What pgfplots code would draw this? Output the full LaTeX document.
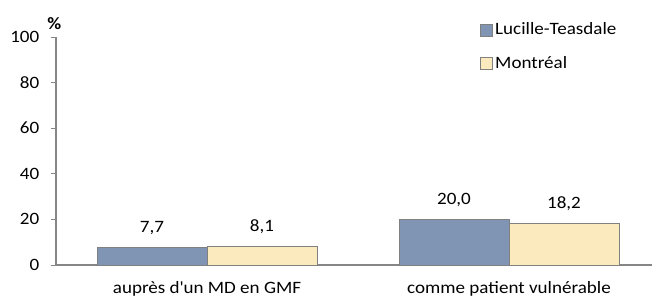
\documentclass[border=0pt]{standalone}
\usepackage{pgfplots}
\pgfplotsset{compat=1.18}
\usepackage{fontspec}
\setmainfont[FakeStretch=1.1]{Carlito}
\definecolor{barblue}{RGB}{127,149,179}
\definecolor{baryellow}{RGB}{250,234,190}
\definecolor{axisgray}{RGB}{134,134,134}
\definecolor{edgegray}{RGB}{128,128,128}
\begin{document}
\begin{tikzpicture}
\begin{axis}[
  scale only axis,
  width=447pt, height=171pt,
  xmin=-0.5, xmax=1.4735,
  ymin=0, ymax=100,
  ytick={0,20,40,60,80,100},
  xtick={0,1},
  xticklabels={auprès d\textquotesingle un MD en GMF, comme patient vulnérable},
  extra x ticks={0.5},
  extra x tick labels={},
  extra x tick style={major tick length=4pt, tick style={axisgray, line width=0.6pt}},
  axis lines=left,
  axis line style={-, axisgray, line width=0.8pt},
  major tick length=4pt,
  x tick style={draw=none},
  y tick style={axisgray, line width=0.6pt},
  tick align=outside,
  font=\fontsize{13pt}{15pt}\selectfont,
  tick label style={font=\fontsize{13pt}{15pt}\selectfont},
  /pgf/number format/assume math mode=true,
  yticklabel style={xshift=-5pt},
  xticklabel style={yshift=-5pt},
  ybar=0pt,
  bar width=82.5pt,
  nodes near coords,
  nodes near coords style={font=\fontsize{13pt}{15pt}\selectfont, yshift=6pt,
    /pgf/number format/.cd, fixed, fixed zerofill, precision=1, use comma, assume math mode=true},
  legend style={draw=none, fill=none, at={(0.711,1.075)}, anchor=north west,
    font=\fontsize{13pt}{15pt}\selectfont, row sep=10.5pt, inner sep=0pt,
    /tikz/every even column/.append style={column sep=1.5pt}},
  legend cell align=left,
  legend image code/.code={\draw[#1, draw=edgegray, line width=0.4pt] (0pt,-4.5pt) rectangle (9pt,4.5pt);},
  clip=false,
]
\addplot[fill=barblue, draw=edgegray, line width=0.4pt] coordinates {(0,7.7) (1,20.0)};
\addplot[fill=baryellow, draw=edgegray, line width=0.4pt] coordinates {(0,8.1) (1,18.2)};
\legend{Lucille-Teasdale, Montréal}
\node[font=\bfseries\fontsize{13pt}{15pt}\selectfont, anchor=south, inner sep=0pt] at (rel axis cs:-0.003,1) [yshift=5pt] {\%};
\end{axis}
\pgfresetboundingbox
\path[use as bounding box] (-42pt,-24.75pt) rectangle (447pt,198.75pt);
\end{tikzpicture}
\end{document}
